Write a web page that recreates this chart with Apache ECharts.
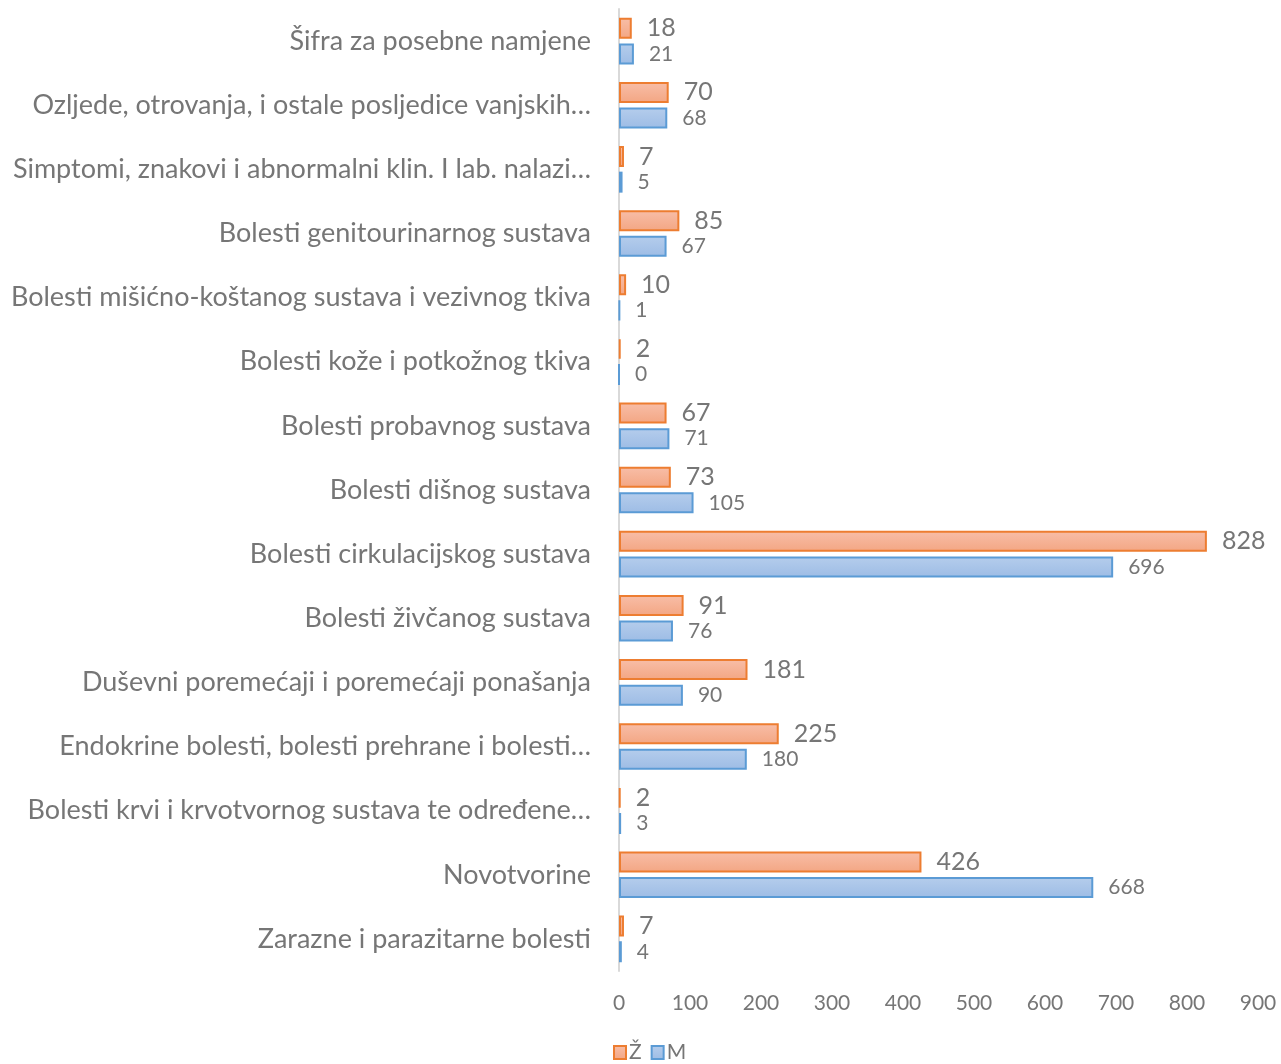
<!DOCTYPE html>
<html>
<head>
<meta charset="utf-8">
<script src="https://cdn.jsdelivr.net/npm/echarts@6/dist/echarts.min.js"></script>
<style>html,body{margin:0;padding:0;background:#fff}#c{width:1281px;height:1064px}</style>
</head>
<body>
<div id="c"></div>
<script>
const categories = [
  "Zarazne i parazitarne bolesti",
  "Novotvorine",
  "Bolesti krvi i krvotvornog sustava te određene…",
  "Endokrine bolesti, bolesti prehrane i bolesti…",
  "Duševni poremećaji i poremećaji ponašanja",
  "Bolesti živčanog sustava",
  "Bolesti cirkulacijskog sustava",
  "Bolesti dišnog sustava",
  "Bolesti probavnog sustava",
  "Bolesti kože i potkožnog tkiva",
  "Bolesti mišićno-koštanog sustava i vezivnog tkiva",
  "Bolesti genitourinarnog sustava",
  "Simptomi, znakovi i abnormalni klin. I lab. nalazi…",
  "Ozljede, otrovanja, i ostale posljedice vanjskih…",
  "Šifra za posebne namjene"
];
const zenske = [7, 426, 2, 225, 181, 91, 828, 73, 67, 2, 10, 85, 7, 70, 18];
const muski = [4, 668, 3, 180, 90, 76, 696, 105, 71, 0, 1, 67, 5, 68, 21];
const xTicks = [0, 100, 200, 300, 400, 500, 600, 700, 800, 900];

const font = "Lato, 'Open Sans', sans-serif";
const txt = "#767676";
const chart = echarts.init(document.getElementById('c'));
chart.setOption({
  animation: false,
  textStyle: { fontFamily: font },
  grid: { left: 619, right: 23, top: 9, bottom: 93, containLabel: false },
  legend: {
    data: ["Ž", "M"],
    top: 1042, left: 613, padding: 0,
    icon: 'rect',
    itemWidth: 12, itemHeight: 13, itemGap: 9,
    textStyle: { color: txt, fontSize: 21, fontFamily: font, padding: [0, 0, 0, -2] }
  },
  xAxis: {
    type: 'value', min: xTicks[0], max: xTicks[xTicks.length - 1], interval: 100,
    axisLine: { show: false }, axisTick: { show: false }, splitLine: { show: false },
    axisLabel: { color: txt, fontSize: 21, margin: 22, fontFamily: font }
  },
  yAxis: {
    type: 'category', data: categories,
    axisLine: { show: true, lineStyle: { color: '#d9d9d9', width: 2 } },
    axisTick: { show: false },
    axisLabel: { color: txt, fontSize: 27, margin: 28, fontFamily: font }
  },
  series: [
    {
      name: "Ž", type: 'bar', data: zenske, barWidth: 21, barGap: '22%',
      itemStyle: {
        color: new echarts.graphic.LinearGradient(0, 0, 0, 1, [{ offset: 0, color: '#f8bea8' }, { offset: 1, color: '#f3a683' }]),
        borderColor: '#ed7d31', borderWidth: 2
      },
      label: { show: true, position: 'right', distance: 15, color: txt, fontSize: 25, fontFamily: font }
    },
    {
      name: "M", type: 'bar', data: muski, barWidth: 21, barGap: '22%',
      itemStyle: {
        color: new echarts.graphic.LinearGradient(0, 0, 0, 1, [{ offset: 0, color: '#b5cdec' }, { offset: 1, color: '#9dbce5' }]),
        borderColor: '#5b9bd5', borderWidth: 2
      },
      label: { show: true, position: 'right', distance: 15, color: txt, fontSize: 21, fontFamily: font }
    }
  ]
});
</script>
</body>
</html>
